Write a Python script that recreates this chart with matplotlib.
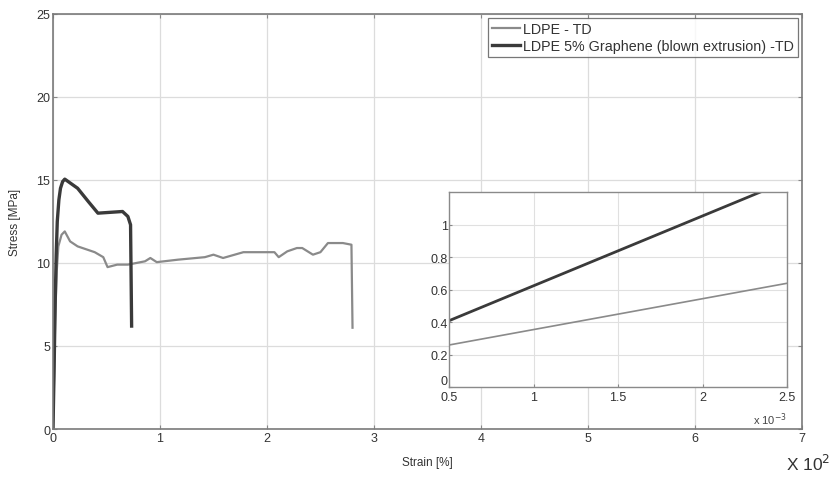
import numpy as np
import matplotlib.pyplot as plt

plt.rcParams['font.family'] = ['Liberation Sans', 'DejaVu Sans']

# Stress-strain curves, strain in units of 10^2 %
ldpe_strain = [0.0, 0.01, 0.02, 0.035, 0.05, 0.08, 0.11, 0.16, 0.23, 0.39, 0.47, 0.51,
               0.60, 0.70, 0.86, 0.91, 0.97, 1.17, 1.42, 1.50, 1.59, 1.78, 2.07,
               2.11, 2.19, 2.28, 2.33, 2.43, 2.50, 2.57, 2.71, 2.79, 2.80]
ldpe_stress = [0.0, 3.0, 6.5, 9.5, 11.0, 11.7, 11.9, 11.3, 11.0, 10.65, 10.35, 9.75,
               9.9, 9.9, 10.1, 10.3, 10.05, 10.2, 10.35, 10.5, 10.3, 10.65, 10.65,
               10.35, 10.7, 10.9, 10.9, 10.5, 10.65, 11.2, 11.2, 11.1, 6.1]

gr_strain = [0.0, 0.01, 0.02, 0.03, 0.04, 0.055, 0.07, 0.09, 0.11, 0.23, 0.33, 0.42,
             0.65, 0.70, 0.725, 0.735]
gr_stress = [0.0, 3.5, 7.5, 10.5, 12.5, 13.8, 14.5, 14.9, 15.05, 14.5, 13.7, 13.0,
             13.1, 12.8, 12.3, 6.2]

# Initial linear region (strain x 10^-3)
zoom_strain = [0.5, 2.5]
ldpe_zoom = [0.26, 0.64]
gr_zoom = [0.41, 1.27]

thin_col = '#8a8a8a'
thick_col = '#3a3a3a'

fig = plt.figure(figsize=(8.32, 4.81), dpi=100)
ax = fig.add_axes([0.0637, 0.106, 0.900, 0.863])

ax.plot(ldpe_strain, ldpe_stress, color=thin_col, lw=1.6, label='LDPE - TD')
ax.plot(gr_strain, gr_stress, color=thick_col, lw=2.4,
        label='LDPE 5% Graphene (blown extrusion) -TD')

ax.set_xlim(0, 7)
ax.set_ylim(0, 25)
ax.set_xticks(range(0, 8))
ax.set_yticks(range(0, 26, 5))
ax.grid(True, color='#dcdcdc', lw=0.9)
ax.tick_params(direction='in', top=True, right=True, labelsize=9,
               color='#888888', length=3, pad=2, labelcolor='#333333')
for s in ax.spines.values():
    s.set_color('#7a7a7a')
    s.set_linewidth(1.2)
ax.set_xlabel('Strain [%]', fontsize=8.5, labelpad=9, color='#333333')
ax.set_ylabel('Stress [MPa]', fontsize=8.5, labelpad=11, color='#333333')

leg = ax.legend(loc='upper right', fontsize=10.3, frameon=True, fancybox=False,
                handlelength=2.0, handletextpad=0.2, borderpad=0.25,
                labelspacing=0.25, borderaxespad=0.3)
leg.get_frame().set_edgecolor('#555555')
leg.get_frame().set_linewidth(0.9)
for t in leg.get_texts():
    t.set_color('#333333')

fig.text(0.998, 0.015, r'X 10$^{2}$', fontsize=12.5, ha='right', va='bottom',
         color='#333333')

# inset: initial elastic region
ins = fig.add_axes([0.540, 0.193, 0.406, 0.405])
ins.plot(zoom_strain, ldpe_zoom, color=thin_col, lw=1.2)
ins.plot(zoom_strain, gr_zoom, color=thick_col, lw=2.0)
ins.set_xlim(0.5, 2.5)
ins.set_ylim(0, 1.2)
ins.set_xticks([0.5, 1, 1.5, 2, 2.5])
ins.set_xticklabels(['0.5', '1', '1.5', '2', '2.5'])
ins.set_yticks([0, 0.2, 0.4, 0.6, 0.8, 1])
ins.set_yticklabels(['0', '0.2', '0.4', '0.6', '0.8', '1'])
ins.get_yticklabels()[0].set_verticalalignment('bottom')
ins.grid(True, color='#e0e0e0', lw=0.8)
ins.tick_params(direction='in', labelsize=9, color='#888888', length=2, pad=1,
                labelcolor='#333333')
ins.tick_params(axis='x', pad=3)
for s in ins.spines.values():
    s.set_color('#8a8a8a')
    s.set_linewidth(1.0)
ins.text(1.0, -0.12, r'x 10$^{-3}$', transform=ins.transAxes, fontsize=8,
         ha='right', va='top', color='#444444')

fig.savefig('out.png', dpi=100)
